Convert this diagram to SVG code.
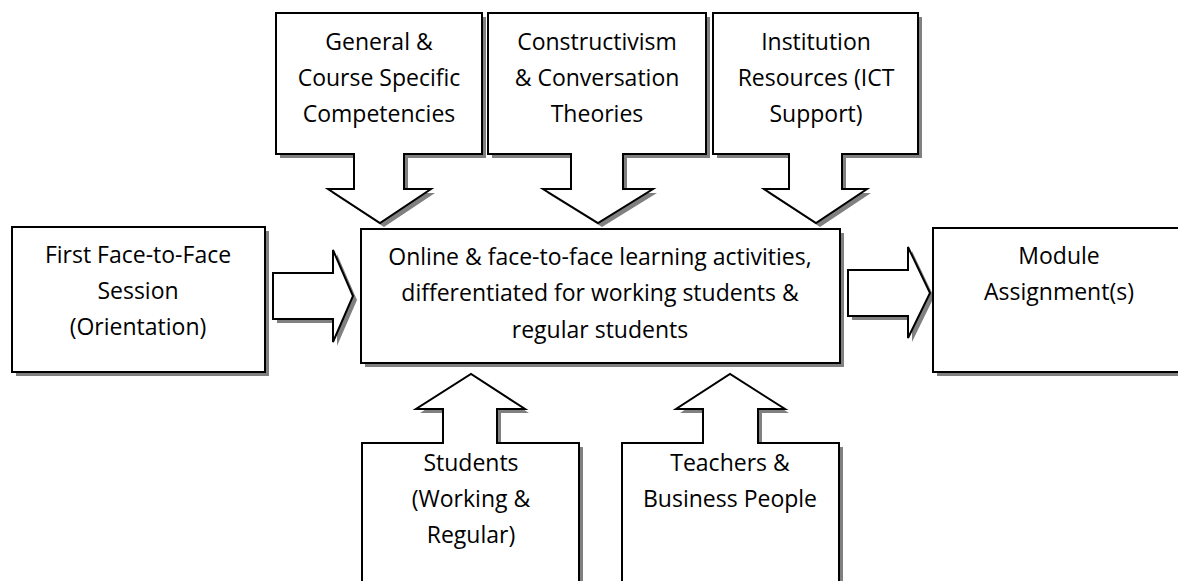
<svg xmlns="http://www.w3.org/2000/svg" width="1178" height="581" viewBox="0 0 1178 581">
<style>
.sh{fill:#808080;stroke:none}
.bx{fill:#fff;stroke:#000;stroke-width:2;stroke-linejoin:miter}
text{font-family:"Open Sans","Noto Sans","Liberation Sans",sans-serif;font-size:23px;fill:#000;text-anchor:middle}
</style>
<rect width="1178" height="581" fill="#fff"/>
<g id="connectors">
  <g id="arrow-left">
    <path class="sh" transform="translate(4,4)" d="M273,273 H333 V250 L353,296 L333,342 V319 H273 Z"/>
    <path class="bx" d="M273,273 H333 V250 L353,296 L333,342 V319 H273 Z"/>
  </g>
  <g id="arrow-right">
    <path class="sh" transform="translate(4,4)" d="M848,270 H908 V247 L930,293 L908,338 V316 H848 Z"/>
    <path class="bx" d="M848,270 H908 V247 L930,293 L908,338 V316 H848 Z"/>
  </g>
</g>
<g id="node-general">
  <path class="sh" transform="translate(4,4)" d="M276,13 H482 V154 H404 V189 H431 L380,223 L328,189 H354 V154 H276 Z"/>
  <path class="bx" d="M276,13 H482 V154 H404 V189 H431 L380,223 L328,189 H354 V154 H276 Z"/>
  <text x="379" y="50">General &amp;</text>
  <text x="379" y="86">Course Specific</text>
  <text x="379" y="122">Competencies</text>
</g>
<g id="node-constructivism">
  <path class="sh" transform="translate(4,4)" d="M488,13 H706 V154 H623 V189 H653 L598,223 L543,189 H571 V154 H488 Z"/>
  <path class="bx" d="M488,13 H706 V154 H623 V189 H653 L598,223 L543,189 H571 V154 H488 Z"/>
  <text x="597" y="50">Constructivism</text>
  <text x="597" y="86">&amp; Conversation</text>
  <text x="597" y="122">Theories</text>
</g>
<g id="node-institution">
  <path class="sh" transform="translate(4,4)" d="M713,13 H918 V154 H842 V189 H867 L816,223 L764,189 H789 V154 H713 Z"/>
  <path class="bx" d="M713,13 H918 V154 H842 V189 H867 L816,223 L764,189 H789 V154 H713 Z"/>
  <text x="816" y="50">Institution</text>
  <text x="816" y="86">Resources (ICT</text>
  <text x="816" y="122">Support)</text>
</g>
<g id="node-first">
  <rect class="sh" x="16" y="231" width="253" height="145"/>
  <rect class="bx" x="12" y="227" width="253" height="145"/>
  <text x="138" y="263">First Face-to-Face</text>
  <text x="138" y="299">Session</text>
  <text x="138" y="335">(Orientation)</text>
</g>
<g id="node-center">
  <rect class="sh" x="365" y="233" width="479" height="134"/>
  <rect class="bx" x="361" y="229" width="479" height="134"/>
  <text x="600" y="265">Online &amp; face-to-face learning activities,</text>
  <text x="600" y="301">differentiated for working students &amp;</text>
  <text x="600" y="338">regular students</text>
</g>
<g id="node-module">
  <rect class="sh" x="937" y="232" width="250" height="144"/>
  <rect class="bx" x="933" y="228" width="250" height="144"/>
  <text x="1059" y="264">Module</text>
  <text x="1059" y="300">Assignment(s)</text>
</g>
<g id="node-students">
  <path class="sh" transform="translate(4,4)" d="M362,443 H443 V409 H416 L471,374 L525,409 H497 V443 H579 V590 H362 Z"/>
  <path class="bx" d="M362,443 H443 V409 H416 L471,374 L525,409 H497 V443 H579 V590 H362 Z"/>
  <text x="471" y="471">Students</text>
  <text x="471" y="507">(Working &amp;</text>
  <text x="471" y="543">Regular)</text>
</g>
<g id="node-teachers">
  <path class="sh" transform="translate(4,4)" d="M622,443 H703 V409 H676 L730,374 L785,409 H758 V443 H839 V590 H622 Z"/>
  <path class="bx" d="M622,443 H703 V409 H676 L730,374 L785,409 H758 V443 H839 V590 H622 Z"/>
  <text x="730" y="471">Teachers &amp;</text>
  <text x="730" y="507">Business People</text>
</g>
</svg>
